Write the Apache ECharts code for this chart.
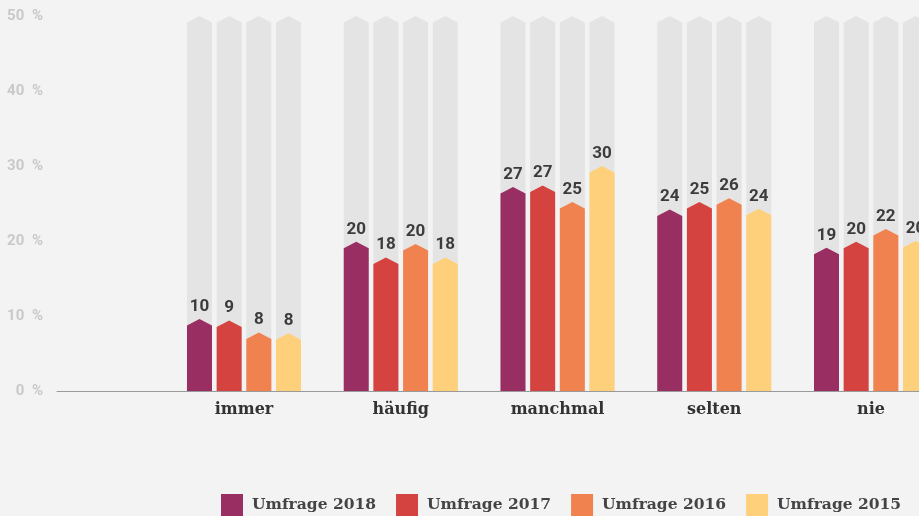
<!DOCTYPE html>
<html>
<head>
<meta charset="utf-8">
<script src="https://cdn.jsdelivr.net/npm/echarts@6/dist/echarts.min.js"></script>
<style>
html,body{margin:0;padding:0;background:#f3f3f3;}
#c{width:919px;height:516px;}
</style>
</head>
<body>
<div id="c"></div>
<script>
const categories = ['immer', 'häufig', 'manchmal', 'selten', 'nie'];
const seriesNames = ['Umfrage 2018', 'Umfrage 2017', 'Umfrage 2016', 'Umfrage 2015'];
const s2018 = [9.6, 19.9, 27.2, 24.2, 19.1];
const s2017 = [9.4, 17.8, 27.4, 25.2, 19.9];
const s2016 = [7.8, 19.6, 25.2, 25.7, 21.6];
const s2015 = [7.7, 17.8, 30.0, 24.3, 20.0];
const backgroundMax = 50;
const yTicks = [0, 10, 20, 30, 40, 50];

const allSeries = [s2018, s2017, s2016, s2015];
const colors = ['#982e62', '#d4433f', '#f0824f', '#ffd07b'];

const chart = echarts.init(document.getElementById('c'), null, {renderer: 'canvas'});

const gridLeft = 57, gridRight = 0, firstCenterPx = 244, bandPx = 156.75;
const xMin = -(firstCenterPx - gridLeft) / bandPx;
const xMax = xMin + (919 - gridLeft - gridRight) / bandPx;

function makeRender(k) {
  return function (params, api) {
    const i = api.value(0), v = api.value(1);
    const band = api.size([1, 0])[0];
    const base = api.coord([i, 0]);
    const xc = base[0] + (k - 1.5) * band * 0.1893;
    const w = band * 0.1595;
    const x0 = xc - w / 2, x1 = xc + w / 2;
    const yb = base[1];
    const top = api.coord([i, v])[1];
    const bgTop = api.coord([i, backgroundMax])[1];
    const tip = 6.5;
    return {
      type: 'group',
      children: [
        {type: 'polygon', shape: {points: [[x0, yb], [x0, bgTop + tip], [xc, bgTop], [x1, bgTop + tip], [x1, yb]]},
         style: {fill: '#e4e4e4'}},
        {type: 'polygon', shape: {points: [[x0, yb], [x0, top + tip], [xc, top], [x1, top + tip], [x1, yb]]},
         style: {fill: colors[k]}},
        {type: 'text', style: {text: String(Math.round(v)), x: xc, y: top - 4, align: 'center', verticalAlign: 'bottom',
         font: 'bold 17px Roboto', fill: '#3c3c3c'}}
      ]
    };
  };
}

const series = allSeries.map((arr, k) => ({
  type: 'custom',
  name: seriesNames[k],
  renderItem: makeRender(k),
  itemStyle: {color: colors[k]},
  encode: {x: 0, y: 1},
  data: arr.map((v, i) => [i, v]),
  clip: false
}));

chart.setOption({
  backgroundColor: '#f3f3f3',
  animation: false,
  color: colors,
  grid: {left: gridLeft, right: gridRight, top: 16, bottom: 125},
  xAxis: {
    type: 'value', min: xMin, max: xMax,
    splitLine: {show: false},
    axisTick: {show: false},
    axisLine: {show: true, onZero: false, lineStyle: {color: '#9a9a9a', width: 1}},
    axisLabel: {
      customValues: categories.map((c, i) => i),
      formatter: v => categories[Math.round(v)] || '',
      color: '#333', fontFamily: 'DejaVu Serif', fontWeight: 'bold', fontSize: 16, margin: 11
    }
  },
  yAxis: {
    type: 'value', min: yTicks[0], max: yTicks[yTicks.length - 1], interval: 10,
    splitLine: {show: false}, axisLine: {show: false}, axisTick: {show: false},
    axisLabel: {formatter: v => v + '\u2002%', color: '#c9c9c9', fontFamily: 'Roboto', fontWeight: 'bold', fontSize: 15, margin: 14}
  },
  legend: {
    left: 221, top: 494, padding: 0, icon: 'rect', itemWidth: 22, itemHeight: 22, itemGap: 20,
    data: seriesNames,
    textStyle: {fontFamily: 'DejaVu Serif', fontWeight: 'bold', fontSize: 15.5, color: '#444', padding: [0, 0, 0, 4]}
  },
  series: series
});
</script>
</body>
</html>
